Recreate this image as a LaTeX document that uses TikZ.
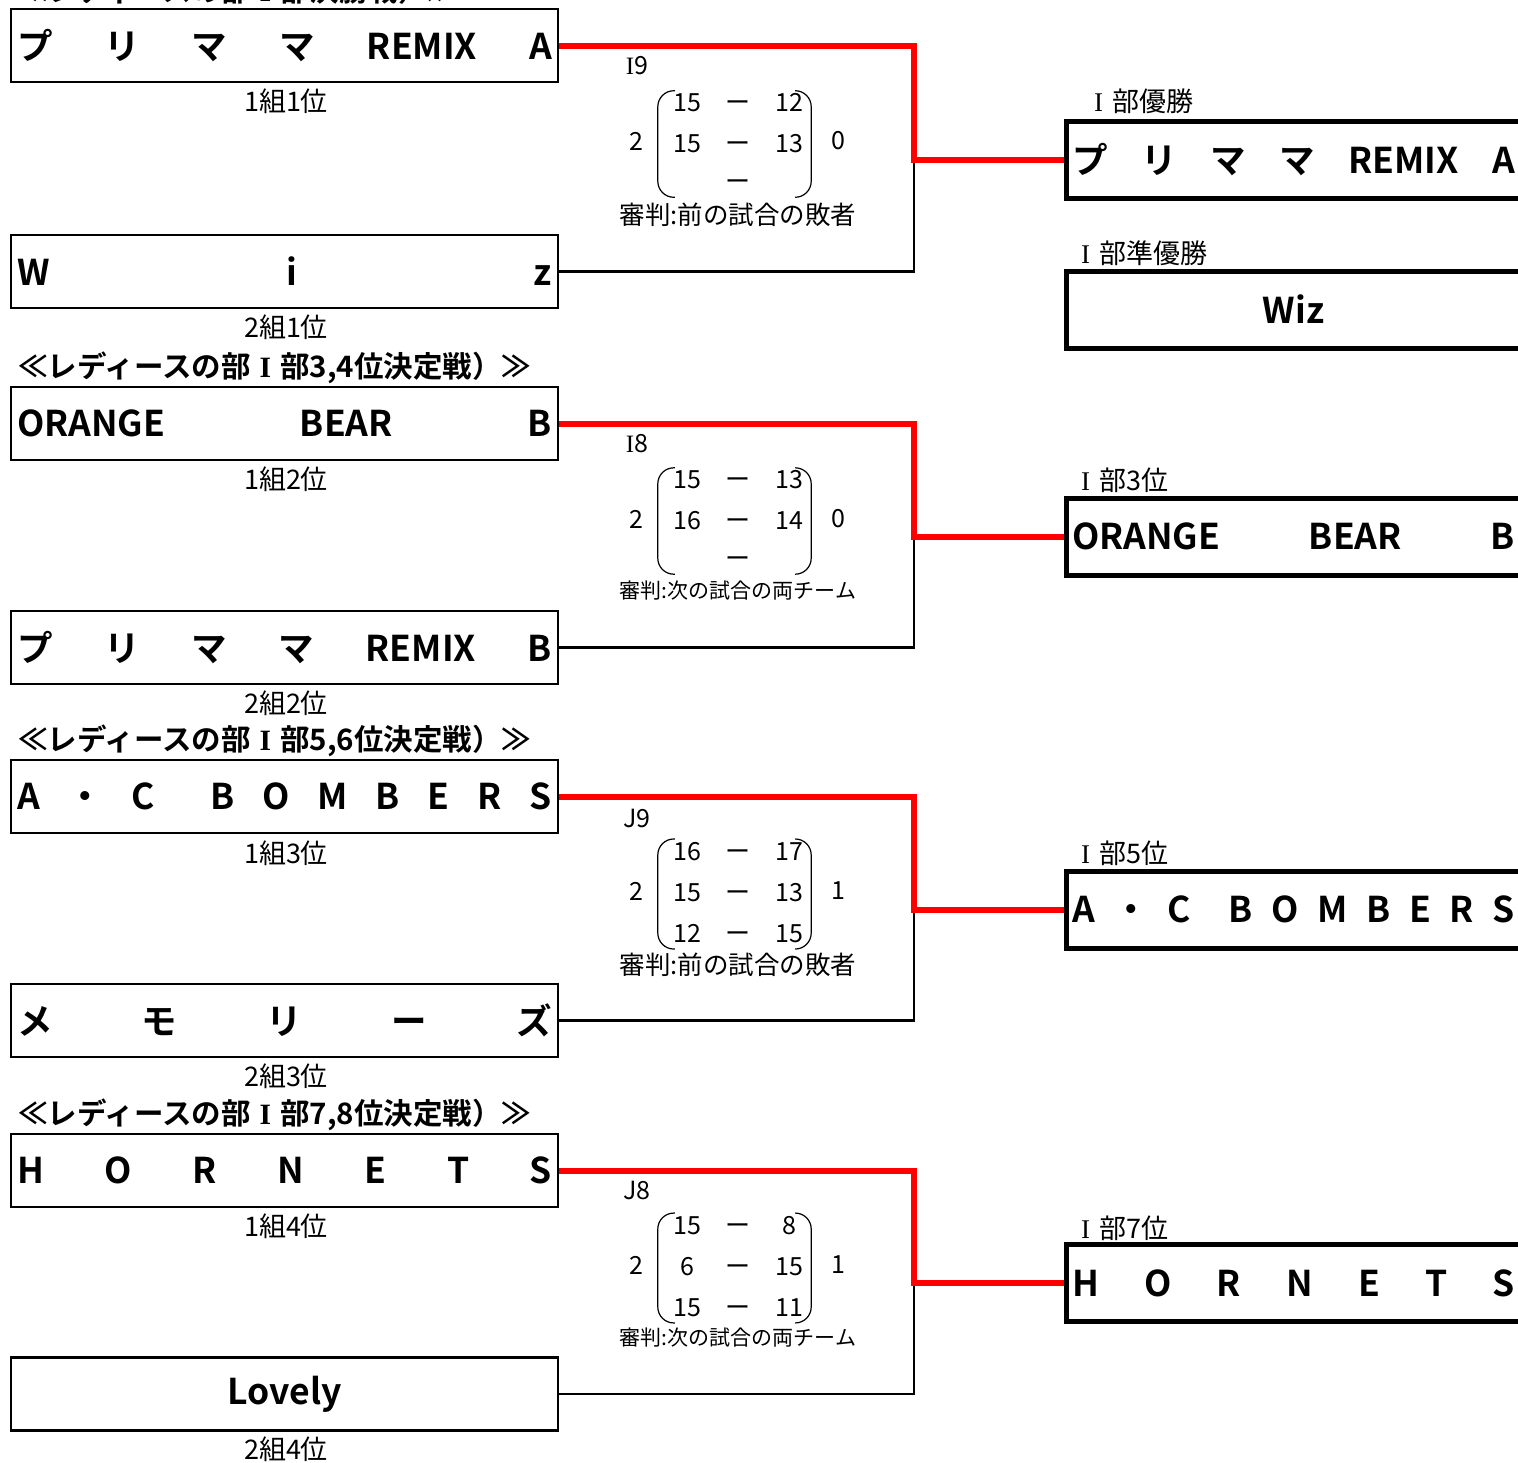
\documentclass[tikz,border=0pt]{standalone}
\usepackage{fontspec}
\setmainfont{Noto Sans CJK JP}[BoldFont={Noto Sans CJK JP Bold}]
\newfontfamily\seriffont{Liberation Serif}
\usetikzlibrary{matrix}
\newcommand\fwI{\makebox[1em]{\seriffont I}}

\begin{document}
\begin{tikzpicture}
	[x=1pt, y=-1pt,
	 team/.style={draw, line width=2.5, fill=white, minimum width=547, minimum height=73, inner sep=0, font=\fontsize{35.5}{40}\selectfont\bfseries},
	 final/.style={draw, line width=5, fill=white, minimum width=455, minimum height=77, inner sep=0, font=\fontsize{35.5}{40}\selectfont\bfseries},
	 place/.style={inner sep=0, font=\fontsize{27}{30}\selectfont},
	 rank/.style={anchor=west, inner sep=0, font=\fontsize{27}{30}\selectfont},
	 title/.style={anchor=west, inner sep=0, font=\fontsize{29.5}{32}\selectfont\bfseries},
	 game/.style={inner sep=0, font=\fontsize{25}{26}\selectfont},
	 referee/.style={inner sep=0, font=\fontsize{25.5}{27}\selectfont},
	 refsmall/.style={inner sep=0, font=\fontsize{21}{24}\selectfont},
	 score/.style={matrix of nodes, inner sep=0, column sep=21, row sep=13.5,
		nodes={inner sep=0, minimum width=30, minimum height=24, font=\fontsize{25}{26}\selectfont}},
	 paren/.style={line width=1.2, rounded corners=16},
	 win/.style={red, line width=6},
	 lose/.style={black, line width=2.5}]

	\useasboundingbox (0,0) rectangle (1518,1462);
	\fill[white] (0,0) rectangle (1518,1462);
	\clip (0,0) rectangle (1518,1462);

	% I部決勝
	\node[title] (t1) at (18,-10) {≪レディースの部\fwI 部決勝戦）≫};
	\node[team] (a1) at (284.5,45.5) {\makebox[535pt]{プ\hfill リ\hfill マ\hfill マ\hfill REMIX\hfill A}};
	\node[place] (pa1) at (286,101) {1組1位};
	\node[team] (b1) at (284.5,271.5) {\makebox[535pt]{W\hfill i\hfill z}};
	\node[place] (pb1) at (286,327) {2組1位};

	\node[game] (g1) at (637,66) {{\seriffont I}9};
	\node[game] (l1) at (636,141) {2};
	\matrix (s1) [score] at (738,144) {
		15 & ー & 12 \\
		15 & ー & 13 \\
		   & ー &    \\
	};
	\node[game] (r1) at (838,141) {0};
	\draw[paren] ([xshift=3]s1.north west) -- ([xshift=-14]s1.north west)
		-- ([xshift=-14]s1.south west) -- ([xshift=3]s1.south west);
	\draw[paren] ([xshift=-9]s1.north east) -- ([xshift=7]s1.north east)
		-- ([xshift=7]s1.south east) -- ([xshift=-9]s1.south east);
	\node[referee] (u1) at (738,215) {審判:前の試合の敗者};

	\node[rank] (k1) at (1085,101) {\fwI 部優勝};
	\node[final] (w1) at (1293.5,159.5) {\makebox[443pt]{プ\hfill リ\hfill マ\hfill マ\hfill REMIX\hfill A}};
	\node[rank] (k2) at (1072,253) {\fwI 部準優勝};
	\node[final] (w0) at (1293.5,309.5) {Wiz};

	\coordinate (j1) at (914,159.5);
	\draw[lose] (b1.east) -| (j1);
	\draw[win] (a1.east) -| (j1) -- (w1.west);

	% I部3,4位
	\node[title] (t2) at (18,368) {≪レディースの部\fwI 部3,4位決定戦）≫};
	\node[team] (a2) at (284.5,423.5) {\makebox[535pt]{ORANGE\hfill BEAR\hfill B}};
	\node[place] (pa2) at (286,479) {1組2位};
	\node[team] (b2) at (284.5,647.5) {\makebox[535pt]{プ\hfill リ\hfill マ\hfill マ\hfill REMIX\hfill B}};
	\node[place] (pb2) at (286,703) {2組2位};

	\node[game] (g2) at (637,444) {{\seriffont I}8};
	\node[game] (l2) at (636,519) {2};
	\matrix (s2) [score] at (738,521) {
		15 & ー & 13 \\
		16 & ー & 14 \\
		   & ー &    \\
	};
	\node[game] (r2) at (838,519) {0};
	\draw[paren] ([xshift=3]s2.north west) -- ([xshift=-14]s2.north west)
		-- ([xshift=-14]s2.south west) -- ([xshift=3]s2.south west);
	\draw[paren] ([xshift=-9]s2.north east) -- ([xshift=7]s2.north east)
		-- ([xshift=7]s2.south east) -- ([xshift=-9]s2.south east);
	\node[refsmall] (u2) at (738,591) {審判:次の試合の両チーム};

	\node[rank] (k3) at (1072,480) {\fwI 部3位};
	\node[final] (w2) at (1293.5,536.5) {\makebox[443pt]{ORANGE\hfill BEAR\hfill B}};

	\coordinate (j2) at (914,536.5);
	\draw[lose] (b2.east) -| (j2);
	\draw[win] (a2.east) -| (j2) -- (w2.west);

	% I部5,6位
	\node[title] (t3) at (18,741) {≪レディースの部\fwI 部5,6位決定戦）≫};
	\node[team] (a3) at (284.5,796.5) {\makebox[535pt]{A\hfill ・\hfill C\hfill\hfill B\hfill O\hfill M\hfill B\hfill E\hfill R\hfill S}};
	\node[place] (pa3) at (286,853) {1組3位};
	\node[team] (b3) at (284.5,1020.5) {\makebox[535pt]{メ\hfill モ\hfill リ\hfill ー\hfill ズ}};
	\node[place] (pb3) at (286,1076) {2組3位};

	\node[game] (g3) at (637,818) {J9};
	\node[game] (l3) at (636,891) {2};
	\matrix (s3) [score] at (738,894) {
		16 & ー & 17 \\
		15 & ー & 13 \\
		12 & ー & 15 \\
	};
	\node[game] (r3) at (838,891) {1};
	\draw[paren] ([xshift=3]s3.north west) -- ([xshift=-14]s3.north west)
		-- ([xshift=-14]s3.south west) -- ([xshift=3]s3.south west);
	\draw[paren] ([xshift=-9]s3.north east) -- ([xshift=7]s3.north east)
		-- ([xshift=7]s3.south east) -- ([xshift=-9]s3.south east);
	\node[referee] (u3) at (738,965) {審判:前の試合の敗者};

	\node[rank] (k4) at (1072,853) {\fwI 部5位};
	\node[final] (w3) at (1293.5,909.5) {\makebox[443pt]{A\hfill ・\hfill C\hfill\hfill B\hfill O\hfill M\hfill B\hfill E\hfill R\hfill S}};

	\coordinate (j3) at (914,909.5);
	\draw[lose] (b3.east) -| (j3);
	\draw[win] (a3.east) -| (j3) -- (w3.west);

	% I部7,8位
	\node[title] (t4) at (18,1115) {≪レディースの部\fwI 部7,8位決定戦）≫};
	\node[team] (a4) at (284.5,1170.5) {\makebox[535pt]{H\hfill O\hfill R\hfill N\hfill E\hfill T\hfill S}};
	\node[place] (pa4) at (286,1226) {1組4位};
	\node[team] (b4) at (284.5,1394) {Lovely};
	\node[place] (pb4) at (286,1449) {2組4位};

	\node[game] (g4) at (637,1190) {J8};
	\node[game] (l4) at (636,1265) {2};
	\matrix (s4) [score] at (738,1268) {
		15 & ー & 8 \\
		6 & ー & 15 \\
		15 & ー & 11 \\
	};
	\node[game] (r4) at (838,1265) {1};
	\draw[paren] ([xshift=3]s4.north west) -- ([xshift=-14]s4.north west)
		-- ([xshift=-14]s4.south west) -- ([xshift=3]s4.south west);
	\draw[paren] ([xshift=-9]s4.north east) -- ([xshift=7]s4.north east)
		-- ([xshift=7]s4.south east) -- ([xshift=-9]s4.south east);
	\node[refsmall] (u4) at (738,1338) {審判:次の試合の両チーム};

	\node[rank] (k5) at (1072,1228) {\fwI 部7位};
	\node[final] (w4) at (1293.5,1283) {\makebox[443pt]{H\hfill O\hfill R\hfill N\hfill E\hfill T\hfill S}};

	\coordinate (j4) at (914,1283);
	\draw[lose] (b4.east) -| (j4);
	\draw[win] (a4.east) -| (j4) -- (w4.west);

\end{tikzpicture}
\end{document}
